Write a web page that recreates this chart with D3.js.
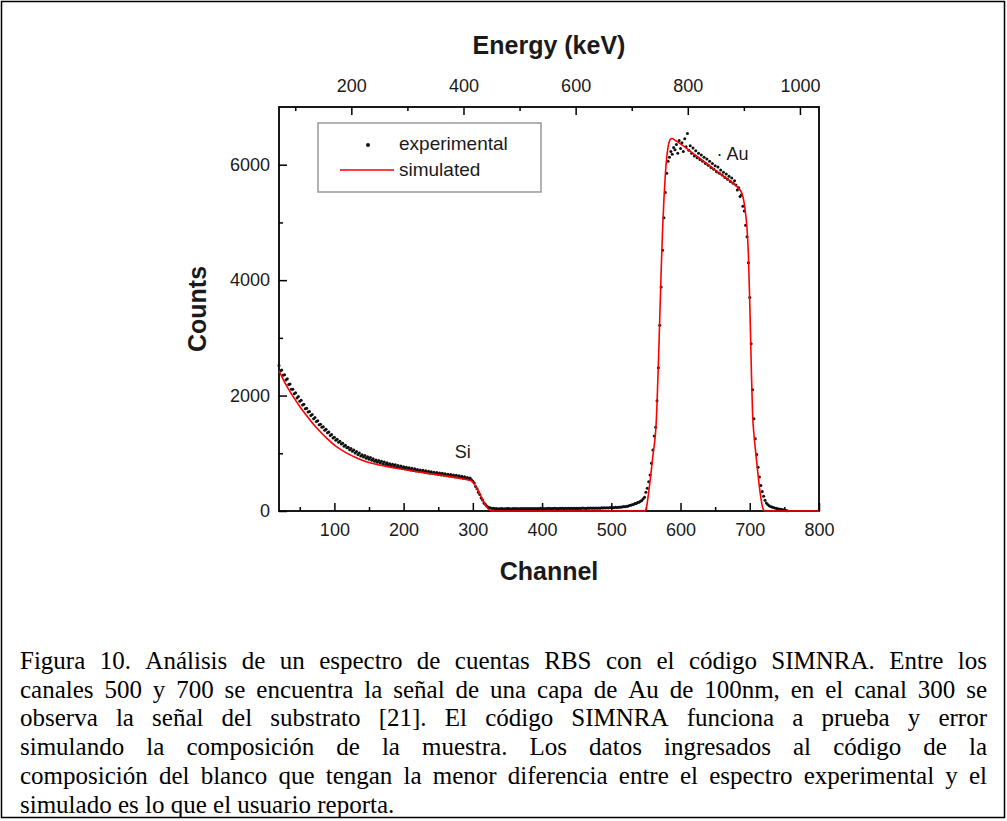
<!DOCTYPE html>
<html>
<head>
<meta charset="utf-8">
<script src="https://cdn.jsdelivr.net/npm/d3@7"></script>
<style>
  body { margin:0; background:#fff; }
  svg { display:block; }
</style>
</head>
<body>
<div id="container"></div>
<script>
/* CONSTANTS AND GLOBALS */
const width = 1007,
      height = 821,
      margin = {top:107, bottom:310, left:279, right:188};

/* DATA */
// experimental counts, one value every 2 channels starting at channel 20
const expStart = 20, expStep = 2;
const expCounts = [
  2520, 2430, 2445, 2350, 2360, 2270, 2290, 2190, 2200, 2110, // 20
  2110, 2030, 2050, 1960, 1985, 1900, 1920, 1835, 1850, 1770, // 40
  1780, 1715, 1725, 1655, 1670, 1600, 1620, 1550, 1565, 1495, // 60
  1505, 1450, 1460, 1400, 1415, 1355, 1370, 1310, 1325, 1265, // 80
  1280, 1225, 1245, 1190, 1210, 1160, 1175, 1120, 1140, 1095, // 100
  1105, 1060, 1085, 1035, 1055, 1005, 1030, 980, 1005, 955,   // 120
  975, 935, 960, 915, 940, 895, 925, 880, 905, 860,           // 140
  885, 845, 875, 830, 860, 820, 850, 805, 835, 795,           // 160
  820, 785, 810, 770, 800, 760, 790, 750, 780, 740,           // 180
  765, 730, 758, 720, 748, 712, 740, 700, 730, 695,           // 200
  720, 688, 712, 678, 705, 670, 698, 662, 690, 655,           // 220
  680, 648, 672, 640, 668, 632, 660, 625, 652, 620,           // 240
  645, 612, 638, 605, 632, 598, 625, 590, 618, 585,           // 260
  610, 578, 600, 568, 592, 560, 582, 552, 570, 540,           // 280
  515, 485, 425, 385, 325, 285, 225, 190, 140, 115,           // 300
  88, 68, 58, 50, 44, 46, 38, 42, 36, 40,                     // 320
  38, 42, 36, 40, 37, 43, 39, 41, 36, 42,                     // 340
  39, 43, 37, 41, 40, 44, 38, 42, 39, 45,                     // 360
  40, 43, 38, 44, 41, 45, 39, 43, 40, 46,                     // 380
  41, 44, 39, 45, 42, 46, 40, 44, 42, 47,                     // 400
  42, 45, 40, 46, 43, 48, 41, 46, 43, 48,                     // 420
  44, 47, 42, 48, 45, 49, 43, 48, 45, 50,                     // 440
  46, 49, 44, 50, 47, 52, 46, 51, 48, 53,                     // 460
  49, 54, 48, 55, 51, 56, 52, 57, 54, 59,                     // 480
  56, 61, 58, 64, 61, 67, 65, 71, 70, 78,                     // 500
  72, 82, 84, 95, 98, 110, 114, 128, 132, 148,                // 520
  150, 168, 182, 214, 240, 325, 395, 508, 625, 826,           // 540
  1055, 1300, 1450, 1910, 2480, 3220, 3880, 4520, 5080, 5520, // 560
  5850, 6060, 6130, 6230, 6180, 6300, 6260, 6350, 6200, 6420, // 580
  6280, 6380, 6230, 6450, 6310, 6540, 6250, 6330, 6200, 6290, // 600
  6150, 6240, 6120, 6200, 6090, 6170, 6060, 6130, 6020, 6100, // 620
  5990, 6060, 5950, 6020, 5920, 5980, 5880, 5960, 5850, 5910, // 640
  5820, 5870, 5780, 5840, 5750, 5800, 5710, 5770, 5680, 5720, // 660
  5650, 5560, 5600, 5450, 5480, 5280, 5200, 4950, 4750, 4300, // 680
  3700, 2900, 2100, 1600, 1250, 980, 760, 590, 440, 340,      // 700
  255, 185, 140, 112, 92, 80, 69, 60, 52, 46,                 // 720
  41, 36, 31, 27, 22, 14, 7, 3                                // 740
];

// simulated spectrum (SIMNRA)
const simChannels = [20, 30, 40, 50, 60, 70, 80, 90, 100, 110, 120, 130, 140, 150, 160, 170, 180, 190, 200,
  220, 240, 260, 280, 298, 302, 306, 310, 314, 318, 322, 326, 330, 548, 550, 552, 555, 560, 565, 566,
  568, 570, 572, 574, 576, 578, 580, 582, 584, 586, 588, 590, 600, 620, 640, 660, 680, 684, 688, 690,
  692, 694, 696, 698, 700, 702, 704, 706, 708, 710, 712, 714, 716, 718, 720, 722, 800];
const simCounts = [2430, 2190, 1990, 1810, 1650, 1500, 1370, 1250, 1140, 1060, 990, 930, 880, 840, 810, 785, 760, 740, 720,
  680, 645, 610, 570, 525, 470, 390, 300, 200, 110, 40, 8, 0, 0, 20, 150, 420, 950, 1570, 1850,
  2550, 3350, 4150, 4850, 5400, 5820, 6120, 6310, 6410, 6450, 6455, 6440, 6360, 6180, 6000, 5820, 5640, 5590, 5520, 5450,
  5330, 5150, 4900, 4450, 3600, 2600, 1700, 1330, 1080, 850, 620, 410, 230, 90, 20, 0, 0];

// axes
const channelDomain = [20, 800];
const energyDomain = [71, 1034];
const countsDomain = [0, 7000];
const channelTicks = [100, 200, 300, 400, 500, 600, 700, 800];
const channelMinor = [50, 150, 250, 350, 450, 550, 650, 750];
const energyTicks = [200, 400, 600, 800, 1000];
const energyMinor = [100, 300, 500, 700, 900];
const countsTicks = [0, 2000, 4000, 6000];
const countsMinor = [1000, 3000, 5000];

// peak labels
const peakLabels = [
  {text: "Si", channel: 274, counts: 913},
  {text: "·", channel: 652, counts: 6085, dx: 4, after: "Au"}
];

const legendItems = ["experimental", "simulated"];

const captionLines = [
  "Figura 10. Análisis de un espectro de cuentas RBS con el código SIMNRA. Entre los",
  "canales 500 y 700 se encuentra la señal de una capa de Au de 100nm, en el canal 300 se",
  "observa la señal del substrato [21]. El código SIMNRA funciona a prueba y error",
  "simulando la composición de la muestra. Los datos ingresados al código de la",
  "composición del blanco que tengan la menor diferencia entre el espectro experimental y el",
  "simulado es lo que el usuario reporta."
];

const sans = "'Liberation Sans', Arial, sans-serif";

/* SVG */
const svg = d3.select("#container")
  .append("svg")
  .attr("width", width)
  .attr("height", height);

svg.append("rect")
  .attr("x", 1.5).attr("y", 1.5)
  .attr("width", width - 4).attr("height", height - 5)
  .attr("fill", "#fff")
  .attr("stroke", "#000")
  .attr("stroke-width", 1.5);

/* SCALES */
const xScale = d3.scaleLinear().domain(channelDomain).range([margin.left, width - margin.right]);
const eScale = d3.scaleLinear().domain(energyDomain).range([margin.left, width - margin.right]);
const yScale = d3.scaleLinear().domain(countsDomain).range([height - margin.bottom, margin.top]);

/* AXES */
const fmt = d3.format("d");
function styleAxis(g) {
  g.select(".domain").remove();
  g.selectAll(".tick line").attr("stroke", "#000").attr("stroke-width", 1.5);
  g.selectAll(".tick text").attr("fill", "#1a1a1a");
  g.attr("font-family", sans).attr("font-size", 18);
}

const bottomY = height - margin.bottom;
svg.append("g")
  .attr("transform", `translate(0, ${bottomY})`)
  .call(d3.axisBottom(xScale).tickValues(channelTicks).tickFormat(fmt).tickSize(-8).tickPadding(12))
  .call(styleAxis);
svg.append("g")
  .attr("transform", `translate(0, ${bottomY})`)
  .call(d3.axisBottom(xScale).tickValues(channelMinor).tickSize(-4).tickFormat(""))
  .call(styleAxis);

svg.append("g")
  .attr("transform", `translate(0, ${margin.top})`)
  .call(d3.axisTop(eScale).tickValues(energyTicks).tickFormat(fmt).tickSize(-8).tickPadding(15))
  .call(styleAxis);
svg.append("g")
  .attr("transform", `translate(0, ${margin.top})`)
  .call(d3.axisTop(eScale).tickValues(energyMinor).tickSize(-4).tickFormat(""))
  .call(styleAxis);

svg.append("g")
  .attr("transform", `translate(${margin.left}, 0)`)
  .call(d3.axisLeft(yScale).tickValues(countsTicks).tickFormat(fmt).tickSize(-8).tickPadding(9))
  .call(styleAxis);
svg.append("g")
  .attr("transform", `translate(${margin.left}, 0)`)
  .call(d3.axisLeft(yScale).tickValues(countsMinor).tickSize(-4).tickFormat(""))
  .call(styleAxis);

// plot frame
svg.append("rect")
  .attr("x", margin.left).attr("y", margin.top)
  .attr("width", width - margin.left - margin.right)
  .attr("height", height - margin.top - margin.bottom)
  .attr("fill", "none")
  .attr("stroke", "#000")
  .attr("stroke-width", 1.8);

// axis titles
const midX = (margin.left + width - margin.right) / 2;
svg.append("text")
  .attr("x", midX).attr("y", 54)
  .attr("text-anchor", "middle")
  .attr("font-family", sans).attr("font-weight", "bold").attr("font-size", 25)
  .attr("fill", "#1a1a1a")
  .text("Energy (keV)");
svg.append("text")
  .attr("x", midX).attr("y", 580)
  .attr("text-anchor", "middle")
  .attr("font-family", sans).attr("font-weight", "bold").attr("font-size", 25)
  .attr("fill", "#1a1a1a")
  .text("Channel");
svg.append("text")
  .attr("transform", `translate(206, ${(margin.top + bottomY) / 2}) rotate(-90)`)
  .attr("text-anchor", "middle")
  .attr("font-family", sans).attr("font-weight", "bold").attr("font-size", 25)
  .attr("fill", "#1a1a1a")
  .text("Counts");

/* DATA MARKS */
const expData = expCounts.map((c, i) => ({channel: expStart + i * expStep, counts: c}));
const simData = simChannels.map((ch, i) => ({channel: ch, counts: simCounts[i]}));

svg.append("g")
  .selectAll("circle")
  .data(expData)
  .join("circle")
  .attr("cx", d => xScale(d.channel))
  .attr("cy", d => yScale(d.counts))
  .attr("r", 1.5)
  .attr("fill", "#111");

const line = d3.line()
  .x(d => xScale(d.channel))
  .y(d => yScale(d.counts))
  .curve(d3.curveMonotoneX);

svg.append("path")
  .datum(simData)
  .attr("d", line)
  .attr("fill", "none")
  .attr("stroke", "#ff0000")
  .attr("stroke-width", 1.6);

// peak labels
peakLabels.forEach(l => {
  const t = svg.append("text")
    .attr("x", xScale(l.channel)).attr("y", yScale(l.counts))
    .attr("font-family", sans).attr("font-size", 18)
    .attr("fill", "#1a1a1a")
    .text(l.text);
  if (l.after) t.append("tspan").attr("dx", l.dx).text(l.after);
});

/* LEGEND */
const legend = svg.append("g").attr("transform", "translate(318, 123)");
legend.append("rect")
  .attr("width", 223).attr("height", 69)
  .attr("fill", "#fff")
  .attr("stroke", "#999")
  .attr("stroke-width", 1.5);
legend.append("circle").attr("cx", 50).attr("cy", 22).attr("r", 2).attr("fill", "#111");
legend.append("line")
  .attr("x1", 22).attr("x2", 76).attr("y1", 47).attr("y2", 47)
  .attr("stroke", "#ff0000").attr("stroke-width", 1.6);
legend.selectAll("text.lg")
  .data(legendItems)
  .join("text")
  .attr("class", "lg")
  .attr("x", 81)
  .attr("y", (d, i) => 27 + i * 26)
  .attr("font-family", sans).attr("font-size", 19)
  .attr("fill", "#1a1a1a")
  .text(d => d);

/* CAPTION (justified) */
const capLeft = 20, capRight = 987, capTop = 669, capLead = 28.7, capSize = 25;
const serif = "'Liberation Serif', 'Times New Roman', serif";
captionLines.forEach((lineText, i) => {
  const words = lineText.split(" ");
  const y = capTop + i * capLead;
  const g = svg.append("g");
  const nodes = words.map(w => g.append("text")
    .attr("y", y)
    .attr("font-family", serif).attr("font-size", capSize)
    .attr("fill", "#000")
    .text(w));
  const widths = nodes.map(n => n.node().getComputedTextLength());
  const total = d3.sum(widths);
  const last = i === captionLines.length - 1;
  const gap = last ? capSize * 0.25 : (capRight - capLeft - total) / (words.length - 1);
  let x = capLeft;
  nodes.forEach((n, k) => {
    n.attr("x", x);
    x += widths[k] + gap;
  });
});
</script>
</body>
</html>
